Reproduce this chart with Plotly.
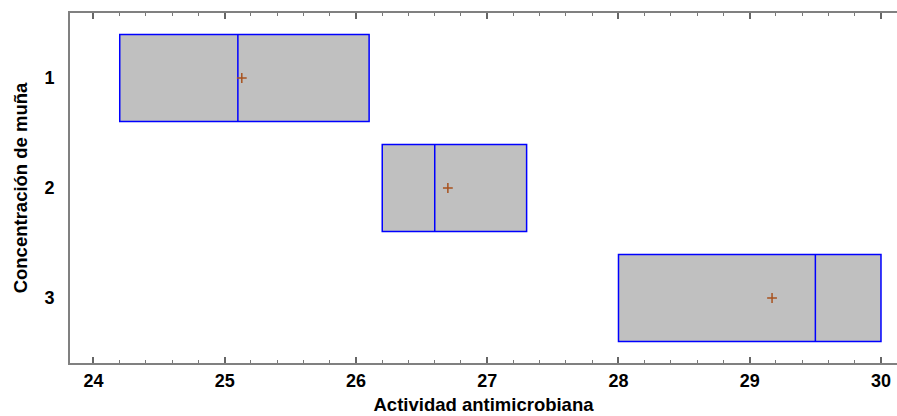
import plotly.graph_objects as go

groups = [1, 2, 3]
group_labels = ["1", "2", "3"]
box_low = [24.2, 26.2, 28.0]
box_median = [25.1, 26.6, 29.5]
box_high = [26.1, 27.3, 30.0]
group_mean = [25.13, 26.70, 29.17]
x_ticks = [24, 25, 26, 27, 28, 29, 30]

fig = go.Figure()
fig.add_trace(go.Box(
    y=groups, q1=box_low, median=box_median, q3=box_high,
    lowerfence=box_low, upperfence=box_high,
    orientation="h", width=0.79, whiskerwidth=0,
    fillcolor="#c0c0c0", line=dict(color="#0000ff", width=1.5),
    boxpoints=False, hoverinfo="skip", showlegend=False,
))
fig.add_trace(go.Scatter(
    x=group_mean, y=groups, mode="markers",
    marker=dict(symbol="cross-thin", size=7, line=dict(color="#a8521e", width=1.5)),
    showlegend=False, hoverinfo="skip",
))

font = dict(family="Liberation Sans, Arial, sans-serif", size=18, color="black")
title_font = dict(family="Liberation Sans, Arial, sans-serif", size=18.5, color="black")
fig.update_layout(
    width=897, height=416,
    margin=dict(l=70, r=0, t=13, b=53),
    paper_bgcolor="white", plot_bgcolor="white",
    font=font,
    xaxis=dict(
        range=[23.821, 30.122], tickvals=x_ticks, ticktext=[f"<b>{v}</b>" for v in x_ticks],
        ticks="inside", ticklen=6, tickcolor="#666", tickwidth=1.5,
        minor=dict(dtick=0.2, tick0=24, ticks="inside", ticklen=3, tickcolor="#777", tickwidth=1),
        showline=True, linecolor="#808080", linewidth=2, mirror="ticks",
        showgrid=False, zeroline=False,
        title=dict(text="<b>Actividad antimicrobiana</b>", standoff=8, font=title_font),
    ),
    yaxis=dict(
        range=[3.591, 0.409], tickvals=groups, ticktext=[f"<b>{t}</b>" for t in group_labels],
        ticks="", showline=True, linecolor="#808080", linewidth=2,
        showgrid=False, zeroline=False, ticklabelstandoff=10,
        title=dict(text="<b>Concentración de muña</b>", standoff=12, font=title_font),
    ),
)
fig.write_html("out.html")
